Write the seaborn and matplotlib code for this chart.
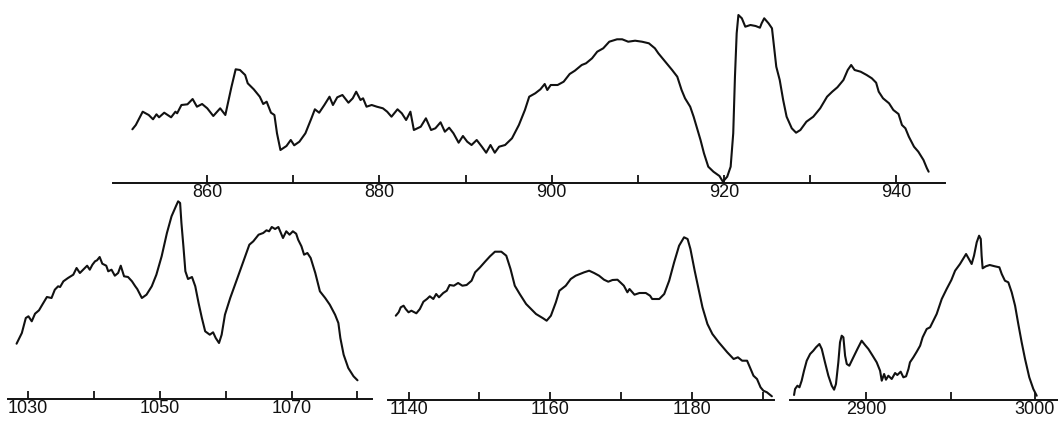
import numpy as np
import pandas as pd
import matplotlib
matplotlib.use('Agg')
import matplotlib.pyplot as plt
import seaborn as sns

sns.set_style('white')
plt.rcParams['font.family'] = ['Liberation Sans', 'DejaVu Sans']

# 스펙트럼 값 (x: 파수 cm-1, y: 기록 높이, 임의 단위)
top_wn = [851.3, 851.7, 852.5, 853.2, 853.7, 854.1, 854.4, 855.0, 855.8, 856.3, 856.5, 857.0, 857.7, 858.3,
          858.8, 859.4, 860.0, 860.7, 861.5, 862.1, 862.8, 863.3, 863.8, 864.4, 864.7, 865.4, 866.1, 866.5,
          866.9, 867.4, 867.8, 868.1, 868.5, 869.2, 869.7, 870.1, 870.7, 871.4, 872.1, 872.5, 873.0, 873.6,
          874.2, 874.6, 875.1, 875.7, 876.4, 876.9, 877.3, 877.8, 878.1, 878.5, 879.1, 879.7, 880.4, 880.9,
          881.4, 882.1, 882.6, 883.1, 883.6, 884.0, 884.8, 885.4, 886.0, 886.5, 887.1, 887.6, 888.1, 888.6,
          889.2, 889.7, 890.2, 890.7, 891.3, 891.9, 892.4, 892.9, 893.4, 893.9, 894.6, 895.4, 896.2, 896.9,
          897.4, 898.1, 898.7, 899.2, 899.5, 899.9, 900.7, 901.4, 902.1, 902.7,
          903.5, 904.0, 904.7, 905.3, 906.0, 906.7, 907.6, 908.2, 908.9, 909.7, 910.5, 911.3, 912.0, 912.4,
          913.2, 914.0, 914.6, 915.1, 915.5, 916.1, 916.5, 916.9, 917.3, 917.7, 918.2, 918.8, 919.5, 919.9,
          920.4, 920.8, 921.1, 921.3, 921.5, 921.7, 922.1, 922.5, 923.1, 923.7, 924.2, 924.4, 924.7, 925.2,
          925.6, 925.8, 926.1, 926.5, 926.9, 927.3, 927.9, 928.4, 928.9, 929.6, 930.4, 931.2, 932.0, 932.6,
          933.2, 933.9, 934.4, 934.8, 935.2, 935.9, 936.6, 937.2, 937.7, 938.0, 938.5, 939.2, 939.7, 940.3,
          940.7, 941.1, 941.5, 942.1, 942.6, 943.2, 943.6, 943.8]
top_val = [53.7, 58.0, 71.3, 68.0, 63.7, 68.7, 65.7, 70.3, 65.7, 71.3, 69.7, 78.0, 78.7, 84.0,
           76.3, 79.0, 74.7, 67.0, 74.7, 68.0, 95.7, 113.7, 113.0, 108.0, 99.7, 93.7, 86.3, 79.0,
           81.3, 70.3, 68.0, 49.7, 33.0, 37.0, 43.0, 37.7, 41.3, 49.7, 64.7, 73.7, 70.3, 78.0,
           86.3, 78.0, 85.7, 88.0, 80.3, 84.7, 91.3, 83.0, 84.7, 76.3, 78.0, 76.3, 74.7, 71.3,
           66.3, 73.7, 69.7, 63.0, 71.3, 53.0, 56.3, 64.7, 53.0, 54.7, 60.7, 51.3, 55.3, 49.7,
           40.3, 47.0, 41.3, 38.0, 43.0, 36.3, 30.3, 38.0, 30.3, 36.3, 38.0, 44.7, 58.0, 73.0,
           86.3, 89.7, 93.7, 99.0, 93.0, 98.0, 98.0, 101.3, 109.0, 112.3,
           118.0, 119.7, 124.7, 131.3, 134.7, 141.3, 143.7, 143.7, 141.3, 142.3, 141.3, 139.7, 134.7, 129.7,
           121.3, 113.0, 106.3, 93.0, 84.7, 76.3, 66.3, 54.7, 43.0, 29.7, 16.3, 11.3, 7.0, 1.3,
           6.3, 16.3, 49.7, 106.3, 149.7, 168.0, 164.7, 156.3, 158.0, 157.0, 155.3, 159.7, 164.7, 159.7,
           154.7, 139.7, 116.3, 103.0, 83.0, 66.3, 54.7, 50.3, 53.0, 61.3, 66.3, 74.7, 86.3, 91.3,
           95.7, 103.0, 113.0, 118.0, 113.0, 111.3, 108.0, 104.7, 100.3, 91.3, 84.7, 79.7, 73.0, 69.0,
           58.0, 54.7, 46.3, 36.3, 31.3, 23.0, 14.7, 11.3]

bl_wn = [1028.3, 1029.1, 1029.7, 1030.1, 1030.6, 1031.1, 1031.7, 1032.2, 1032.9, 1033.6, 1034.1, 1034.6,
         1034.9, 1035.4, 1036.1, 1036.9, 1037.4, 1037.9, 1038.5, 1039.0, 1039.4, 1039.8, 1040.2, 1040.5,
         1040.9, 1041.3, 1041.9, 1042.2, 1042.7, 1043.2, 1043.7, 1044.1, 1044.6, 1045.2, 1045.8, 1046.3,
         1046.6, 1047.3, 1048.0, 1048.8, 1049.5, 1050.3, 1051.1, 1051.8, 1052.5, 1052.8, 1053.1, 1053.3,
         1053.6, 1053.9, 1054.3, 1054.9, 1055.4, 1055.9, 1056.4, 1056.9, 1057.6, 1058.1, 1058.5, 1059.0,
         1059.4, 1059.9, 1060.7, 1061.7, 1062.7, 1063.6, 1064.2, 1065.0, 1065.7, 1066.2, 1066.6, 1067.0,
         1067.5, 1068.0, 1068.7, 1069.2, 1069.7, 1070.2, 1070.7, 1071.0, 1071.5, 1071.9, 1072.4, 1072.9,
         1073.6, 1074.3, 1075.1, 1075.8, 1076.6, 1077.1, 1077.4, 1077.9, 1078.6, 1079.4, 1080.0]
bl_val = [55.3, 66.0, 81.0, 82.7, 77.7, 85.3, 88.7, 94.3, 102.0, 101.0, 109.3, 112.7,
          112.0, 117.7, 121.0, 124.3, 131.0, 126.0, 130.0, 133.3, 129.3, 134.3, 137.7, 138.7,
          142.0, 135.3, 133.3, 127.7, 129.3, 123.3, 126.0, 133.3, 122.7, 122.0, 117.7, 112.7,
          110.0, 101.0, 104.3, 112.7, 124.3, 142.7, 166.0, 182.7, 193.3, 197.7, 196.0, 176.0,
          152.7, 127.7, 120.0, 122.0, 112.7, 96.0, 81.0, 67.7, 64.3, 66.7, 61.0, 56.0,
          64.3, 84.3, 101.0, 119.3, 137.7, 154.3, 157.7, 164.3, 166.0, 168.7, 167.7, 172.0,
          170.0, 172.0, 161.0, 167.7, 164.3, 167.7, 165.3, 159.3, 152.7, 144.3, 146.0, 141.0,
          126.0, 107.7, 101.0, 94.3, 84.3, 76.0, 61.0, 44.3, 31.0, 22.7, 18.7]

bm_wn = [1138.2, 1138.6, 1138.9, 1139.3, 1139.6, 1140.0, 1140.4, 1141.1, 1141.6, 1142.1, 1142.6, 1143.0,
         1143.5, 1143.9, 1144.3, 1144.9, 1145.4, 1145.8, 1146.4, 1147.0, 1147.6, 1148.2, 1148.9, 1149.4,
         1150.1, 1150.8, 1151.5, 1152.2, 1153.1, 1153.8, 1154.4, 1155.0, 1155.7, 1156.6, 1157.3, 1158.0,
         1159.0, 1159.5, 1160.1, 1160.8, 1161.3, 1162.2, 1162.9, 1163.6, 1164.8, 1165.5, 1166.2, 1166.9,
         1167.6, 1168.2, 1168.8, 1169.5, 1170.0, 1170.4, 1170.9, 1171.2, 1171.9, 1172.6, 1173.5, 1174.1,
         1174.4, 1175.4, 1176.1, 1176.8, 1177.5, 1178.2, 1178.9, 1179.4, 1179.8, 1180.4, 1181.0, 1181.5,
         1182.2, 1182.9, 1183.8, 1185.0, 1185.9, 1186.5, 1187.1, 1187.8, 1188.3, 1188.7, 1189.2, 1189.7,
         1190.1, 1190.6, 1191.3]
bm_val = [84.3, 87.7, 92.7, 94.3, 91.0, 87.7, 89.3, 86.7, 91.0, 98.3, 101.0, 103.7,
          101.0, 106.0, 102.7, 107.0, 109.3, 115.0, 114.3, 117.0, 114.3, 115.0, 119.3, 127.7,
          132.7, 138.3, 143.7, 148.3, 148.3, 144.3, 131.0, 114.3, 106.0, 96.0, 91.0, 86.0,
          81.7, 79.3, 84.3, 97.7, 109.3, 114.3, 121.0, 124.3, 127.7, 129.3, 127.0, 124.3,
          120.3, 118.3, 120.0, 120.3, 117.0, 114.3, 107.7, 111.0, 105.3, 107.0, 107.0, 104.3,
          101.0, 101.0, 106.0, 119.3, 137.7, 154.3, 162.7, 161.0, 151.0, 129.3, 109.3, 92.7,
          76.0, 66.0, 57.7, 47.7, 41.0, 42.7, 39.3, 39.3, 31.0, 24.3, 21.0, 12.7,
          9.3, 7.7, 3.7]

br_wn = [2857.4, 2858.0, 2859.4, 2860.6, 2861.9, 2863.3, 2864.9, 2866.9, 2868.8, 2870.4, 2872.4, 2873.8,
         2875.7, 2877.7, 2879.7, 2881.1, 2882.2, 2883.6, 2884.6, 2885.6, 2886.6, 2887.6, 2888.6, 2890.1,
         2892.5, 2894.9, 2897.4, 2899.4, 2901.4, 2903.9, 2906.3, 2908.3, 2909.3, 2910.7, 2911.8, 2913.2,
         2915.2, 2917.2, 2918.5, 2920.5, 2922.1, 2923.7, 2925.1, 2926.0, 2928.0, 2930.0, 2932.0, 2933.5,
         2935.9, 2937.9, 2941.8, 2944.8, 2947.7, 2950.5, 2952.7, 2955.6, 2959.2, 2961.1, 2962.5, 2963.9,
         2965.5, 2966.9, 2967.9, 2968.4, 2969.0, 2970.9, 2973.2, 2976.2, 2978.9, 2980.3, 2982.2, 2984.2,
         2986.2, 2988.2, 2990.1, 2992.1, 2994.1, 2996.6, 2999.0, 3001.0]
br_val = [5.0, 11.0, 14.3, 12.7, 19.3, 29.3, 39.3, 46.0, 49.3, 52.7, 56.0, 51.0,
          37.7, 24.3, 14.3, 10.3, 16.0, 37.7, 57.7, 64.3, 62.7, 44.3, 36.0, 34.3,
          42.7, 51.0, 59.3, 55.0, 51.0, 44.3, 37.7, 29.3, 19.3, 26.0, 20.3, 24.3,
          21.0, 27.0, 25.0, 28.3, 22.7, 23.7, 31.0, 37.7, 42.7, 48.3, 54.3, 62.7,
          71.0, 72.7, 86.0, 101.0, 111.0, 120.0, 129.3, 136.0, 146.0, 140.3, 136.0, 144.3,
          157.7, 164.3, 161.0, 144.3, 131.7, 133.7, 135.0, 133.7, 132.7, 126.0, 119.3, 117.7,
          107.7, 94.3, 76.0, 57.7, 41.0, 22.7, 11.0, 4.3]

top_ticks = [860, 870, 880, 890, 900, 910, 920, 930, 940]
top_labels = ['860', '', '880', '', '900', '', '920', '', '940']
bl_ticks = [1030, 1040, 1050, 1060, 1070, 1080]
bl_labels = ['1030', '', '1050', '', '1070', '']
bm_ticks = [1140, 1150, 1160, 1170, 1180, 1190]
bm_labels = ['1140', '', '1160', '', '1180', '']
br_ticks = [2900, 2950, 3000]
br_labels = ['2900', '', '3000']

W, H = 1058, 421
fig = plt.figure(figsize=(W / 100, H / 100), dpi=100)


def panel(wn, val, xlim, ticks, labels, left, right, base, height):
    ax = fig.add_axes([left / W, (H - base) / H, (right - left) / W, height / H])
    ax.patch.set_alpha(0)
    df = pd.DataFrame({'wn': wn, 'val': val})
    sns.lineplot(data=df, x='wn', y='val', ax=ax, color='#111111', lw=1.5,
                 sort=False, estimator=None)
    ax.set_xlim(*xlim)
    ax.set_ylim(0, height)
    for s in ['top', 'left', 'right']:
        ax.spines[s].set_visible(False)
    ax.spines['bottom'].set_linewidth(1.4)
    ax.spines['bottom'].set_color('#111111')
    ax.set_yticks([])
    ax.set_xticks(ticks)
    ax.set_xticklabels(labels)
    ax.tick_params(axis='x', bottom=True, direction='in', length=6, width=1.3, color='#111111',
                   labelsize=13, pad=1, labelcolor='#111111')
    ax.set_xlabel('')
    ax.set_ylabel('')
    return ax


panel(top_wn, top_val, (849.05, 945.7), top_ticks, top_labels, 113, 945, 183, 180)
panel(bl_wn, bl_val, (1027.0, 1082.2), bl_ticks, bl_labels, 8, 372, 399, 205)
panel(bm_wn, bm_val, (1137.1, 1191.6), bm_ticks, bm_labels, 388, 774, 400, 205)
panel(br_wn, br_val, (2855.0, 3013.6), br_ticks, br_labels, 790, 1058, 400, 205)

fig.savefig('out.png', dpi=100, facecolor='white')
